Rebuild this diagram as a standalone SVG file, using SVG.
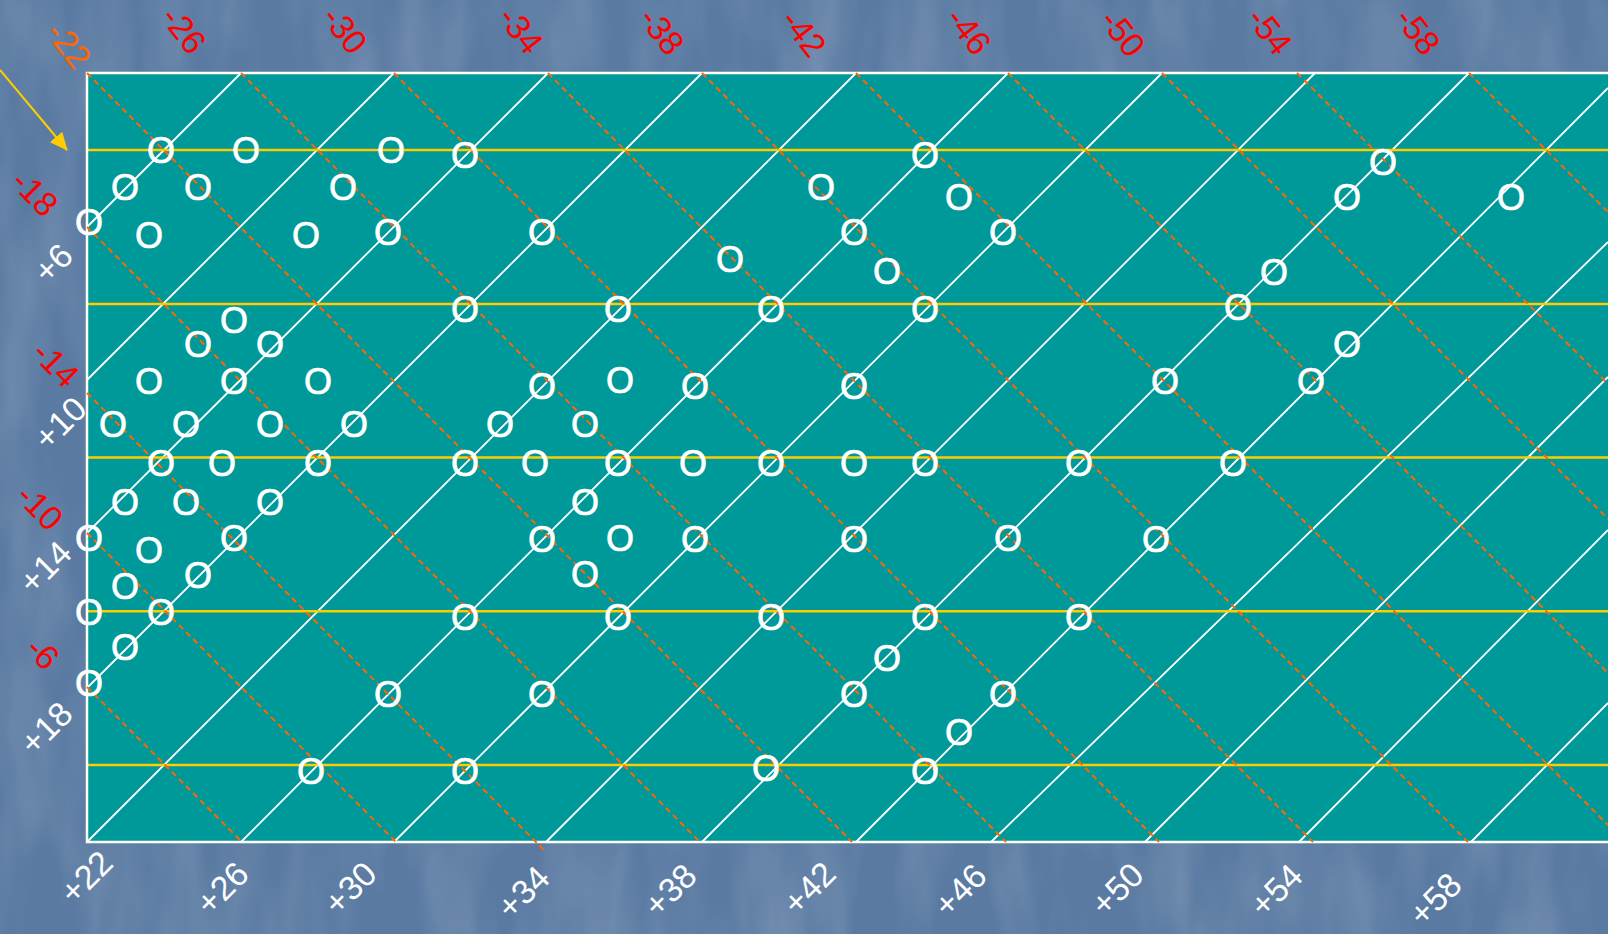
<svg xmlns="http://www.w3.org/2000/svg" width="1608" height="934" viewBox="0 0 1608 934">
<defs>
<filter id="tex" x="0" y="0" width="100%" height="100%">
<feTurbulence type="fractalNoise" baseFrequency="0.02 0.006" numOctaves="3" seed="7"/>
<feColorMatrix type="matrix" values="0 0 0 0 1  0 0 0 0 1  0 0 0 0 1  0.8 0 0 0 -0.3"/>
</filter>
<marker id="ah" markerWidth="18" markerHeight="16" refX="17" refY="8" orient="auto" markerUnits="userSpaceOnUse">
<path d="M0,0 L18,8 L0,16 Z" fill="#FFCC00"/>
</marker>
<style>
.w{stroke:#FFFFFF;stroke-width:1.8;fill:none}
.o{stroke:#FF6600;stroke-width:2;stroke-dasharray:6 4;fill:none}
.y{stroke:#FFCC00;stroke-width:2.5;fill:none}
.m{font-family:"Liberation Sans",Arial,sans-serif;font-size:36px;fill:#FFFFFF;stroke:#FFFFFF;stroke-width:0.7;text-anchor:middle}
.lr{font-family:"Liberation Sans",Arial,sans-serif;font-size:34px;fill:#FF0000;text-anchor:middle}
.lo{font-family:"Liberation Sans",Arial,sans-serif;font-size:34px;fill:#FF6600;text-anchor:middle}
.lw{font-family:"Liberation Sans",Arial,sans-serif;font-size:34px;fill:#FFFFFF;text-anchor:middle}
</style>
</defs>
<g id="background">
<rect x="0" y="0" width="1608" height="934" fill="#5a7aa2"/>
<rect x="0" y="0" width="1608" height="934" filter="url(#tex)" opacity="0.35"/>
</g>
<g id="chart">
<rect x="87" y="73" width="1540" height="769" fill="#009999"/>
<g id="white-lines">
<path class="w" d="M87,227 L241,73 M87,380 L394,73 M87,533 L548,73 M87,688 L702,73 M87,842 L856,73 M241,842 L1008,73 M394,842 L1162,73 M546,842 L1315,73 M702,842 L1469,73 M856,842 L1608,88 M991,842 L1608,242 M1145,842 L1608,377 M1299,842 L1608,530 M1471,842 L1608,703"/>
</g>
<g id="yellow-lines">
<path class="y" d="M87,150 H1608 M87,304 H1608 M87,457.5 H1608 M87,611.3 H1608 M87,765 H1608"/>
</g>
<rect x="87" y="73" width="1540" height="769" fill="none" stroke="#FFFFFF" stroke-width="2.5"/>
<g id="orange-lines">
<path class="o" d="M87,687 L242,842 M87,533 L396,842 M87,393 L547,853 M87,227 L700,842 M87,73 L852,842 M241,73 L1006,842 M394,73 L1159,842 M548,73 L1313,842 M702,73 L1468,842 M856,73 L1608,825 M1008,73 L1608,673 M1162,73 L1608,519 M1297,73 L1608,384 M1469,73 L1608,212"/>
</g>
</g>
<g id="connectors">
<line x1="0" y1="70" x2="67" y2="150" stroke="#FFCC00" stroke-width="2" marker-end="url(#ah)"/>
</g>
<g id="top-labels">
<text class="lo" transform="translate(69,45) rotate(52)" y="12">-22</text>
<text class="lr" transform="translate(184,30) rotate(52)" y="12">-26</text>
<text class="lr" transform="translate(345,30) rotate(52)" y="12">-30</text>
<text class="lr" transform="translate(521,30) rotate(52)" y="12">-34</text>
<text class="lr" transform="translate(662,31) rotate(52)" y="12">-38</text>
<text class="lr" transform="translate(804,33) rotate(52)" y="12">-42</text>
<text class="lr" transform="translate(969,31) rotate(52)" y="12">-46</text>
<text class="lr" transform="translate(1123,33) rotate(52)" y="12">-50</text>
<text class="lr" transform="translate(1270,31) rotate(52)" y="12">-54</text>
<text class="lr" transform="translate(1418,31) rotate(52)" y="12">-58</text>
</g>
<g id="left-labels">
<text class="lr" transform="translate(35,193) rotate(45)" y="12">-18</text>
<text class="lr" transform="translate(56,364) rotate(45)" y="12">-14</text>
<text class="lr" transform="translate(40,507) rotate(45)" y="12">-10</text>
<text class="lr" transform="translate(43,653) rotate(45)" y="12">-6</text>
<text class="lw" transform="translate(53,263) rotate(-45)" y="12">+6</text>
<text class="lw" transform="translate(60,423) rotate(-45)" y="12">+10</text>
<text class="lw" transform="translate(45,567) rotate(-45)" y="12">+14</text>
<text class="lw" transform="translate(46,728) rotate(-45)" y="12">+18</text>
</g>
<g id="bottom-labels">
<text class="lw" transform="translate(86,877) rotate(-45)" y="12">+22</text>
<text class="lw" transform="translate(222,888) rotate(-45)" y="12">+26</text>
<text class="lw" transform="translate(350,888) rotate(-45)" y="12">+30</text>
<text class="lw" transform="translate(523,892) rotate(-45)" y="12">+34</text>
<text class="lw" transform="translate(670,890) rotate(-45)" y="12">+38</text>
<text class="lw" transform="translate(809,888) rotate(-45)" y="12">+42</text>
<text class="lw" transform="translate(960,890) rotate(-45)" y="12">+46</text>
<text class="lw" transform="translate(1117,889) rotate(-45)" y="12">+50</text>
<text class="lw" transform="translate(1276,890) rotate(-45)" y="12">+54</text>
<text class="lw" transform="translate(1435,899) rotate(-45)" y="12">+58</text>
</g>
<g id="marks">
<text class="m" x="161" y="162.5">O</text>
<text class="m" x="246" y="162.5">O</text>
<text class="m" x="391" y="162.5">O</text>
<text class="m" x="465" y="167.5">O</text>
<text class="m" x="925" y="167.5">O</text>
<text class="m" x="1383" y="174.5">O</text>
<text class="m" x="125" y="199.5">O</text>
<text class="m" x="198" y="199.5">O</text>
<text class="m" x="343" y="199.5">O</text>
<text class="m" x="821" y="199.5">O</text>
<text class="m" x="959" y="209.5">O</text>
<text class="m" x="1347" y="209.5">O</text>
<text class="m" x="1511" y="209.5">O</text>
<text class="m" x="89" y="234.5">O</text>
<text class="m" x="149" y="247.5">O</text>
<text class="m" x="306" y="247.5">O</text>
<text class="m" x="388" y="244.5">O</text>
<text class="m" x="542" y="244.5">O</text>
<text class="m" x="854" y="244.5">O</text>
<text class="m" x="1003" y="244.5">O</text>
<text class="m" x="730" y="271.5">O</text>
<text class="m" x="887" y="283.5">O</text>
<text class="m" x="1274" y="284.5">O</text>
<text class="m" x="465" y="321.5">O</text>
<text class="m" x="618" y="321.5">O</text>
<text class="m" x="771" y="321.5">O</text>
<text class="m" x="925" y="321.5">O</text>
<text class="m" x="1238" y="319.5">O</text>
<text class="m" x="234" y="332.5">O</text>
<text class="m" x="198" y="356.5">O</text>
<text class="m" x="270" y="356.5">O</text>
<text class="m" x="1347" y="356.5">O</text>
<text class="m" x="149" y="393.5">O</text>
<text class="m" x="234" y="393.5">O</text>
<text class="m" x="318" y="393.5">O</text>
<text class="m" x="542" y="398.5">O</text>
<text class="m" x="620" y="392.5">O</text>
<text class="m" x="695" y="398.5">O</text>
<text class="m" x="854" y="398.5">O</text>
<text class="m" x="1165" y="393.5">O</text>
<text class="m" x="1311" y="393.5">O</text>
<text class="m" x="113" y="436.5">O</text>
<text class="m" x="186" y="436.5">O</text>
<text class="m" x="270" y="436.5">O</text>
<text class="m" x="354" y="436.5">O</text>
<text class="m" x="500" y="436.5">O</text>
<text class="m" x="585" y="436.5">O</text>
<text class="m" x="161" y="475.5">O</text>
<text class="m" x="222" y="475.5">O</text>
<text class="m" x="318" y="475.5">O</text>
<text class="m" x="465" y="475.5">O</text>
<text class="m" x="535" y="475.5">O</text>
<text class="m" x="618" y="475.5">O</text>
<text class="m" x="693" y="475.5">O</text>
<text class="m" x="771" y="475.5">O</text>
<text class="m" x="854" y="475.5">O</text>
<text class="m" x="925" y="475.5">O</text>
<text class="m" x="1079" y="475.5">O</text>
<text class="m" x="1233" y="475.5">O</text>
<text class="m" x="125" y="514.5">O</text>
<text class="m" x="186" y="514.5">O</text>
<text class="m" x="270" y="514.5">O</text>
<text class="m" x="585" y="514.5">O</text>
<text class="m" x="89" y="550.5">O</text>
<text class="m" x="149" y="562.5">O</text>
<text class="m" x="234" y="550.5">O</text>
<text class="m" x="542" y="551.5">O</text>
<text class="m" x="620" y="550.5">O</text>
<text class="m" x="695" y="551.5">O</text>
<text class="m" x="854" y="551.5">O</text>
<text class="m" x="1008" y="550.5">O</text>
<text class="m" x="1156" y="551.5">O</text>
<text class="m" x="125" y="598.5">O</text>
<text class="m" x="198" y="587.5">O</text>
<text class="m" x="585" y="586.5">O</text>
<text class="m" x="89" y="624.5">O</text>
<text class="m" x="161" y="624.5">O</text>
<text class="m" x="465" y="629.5">O</text>
<text class="m" x="618" y="629.5">O</text>
<text class="m" x="771" y="629.5">O</text>
<text class="m" x="925" y="629.5">O</text>
<text class="m" x="1079" y="629.5">O</text>
<text class="m" x="125" y="659.5">O</text>
<text class="m" x="887" y="670.5">O</text>
<text class="m" x="89" y="695.5">O</text>
<text class="m" x="388" y="706.5">O</text>
<text class="m" x="542" y="706.5">O</text>
<text class="m" x="854" y="706.5">O</text>
<text class="m" x="1003" y="706.5">O</text>
<text class="m" x="959" y="744.5">O</text>
<text class="m" x="311" y="783.5">O</text>
<text class="m" x="465" y="783.5">O</text>
<text class="m" x="766" y="780.5">O</text>
<text class="m" x="925" y="783.5">O</text>
</g>
</svg>
